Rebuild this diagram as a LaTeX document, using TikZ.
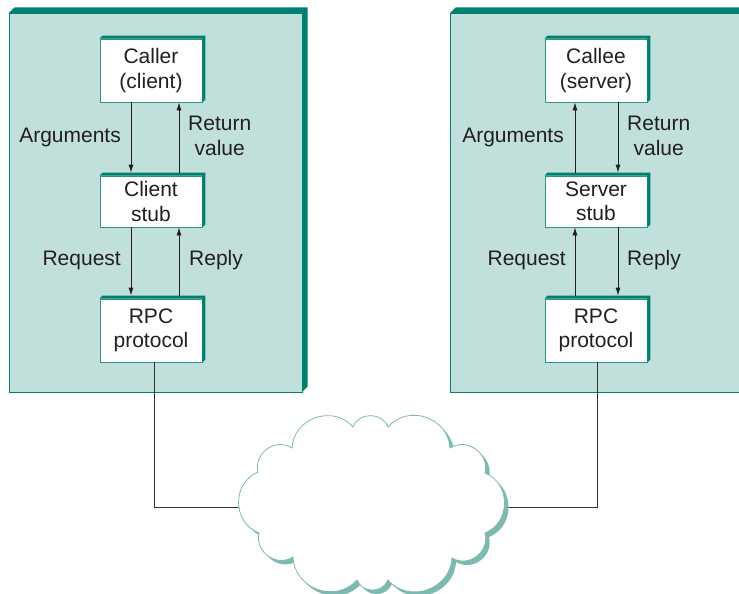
\documentclass[tikz,border=0pt]{standalone}
\usepackage{fontspec}
\setmainfont{Liberation Sans}
\usetikzlibrary{arrows.meta,calc}
\definecolor{panelfill}{HTML}{C1E0DB}
\definecolor{tealdark}{HTML}{00806F}
\definecolor{boxline}{HTML}{2E9484}
\definecolor{cloudsh}{HTML}{7DB9B1}
\definecolor{txt}{HTML}{231F20}
\newcommand\mkband[1]{\fill[tealdark] (#1.north west) -- ++(3,3) -- ([shift={(3,3)}]#1.north east) -- ([shift={(3,3)}]#1.south east) -- (#1.south east) -- (#1.north east) -- cycle;}
\newcommand\cloudshape{(353,-427) to[cb] (388,-427) to[cb] (450,-448) to[cb] (485,-473) to[cb] (485,-533) to[cb] (452,-558) to[cb] (388,-580) to[cb] (357,-580) to[cb] (293,-557) to[cb] (259,-533) to[cb] (258,-472) to[cb] (292,-448) to[cb] (353,-427) -- cycle}
\begin{document}
\begin{tikzpicture}[x=1pt,y=1pt,
  font=\fontsize{21}{24.5}\selectfont, text=txt,
  blk/.style={draw=boxline, line width=0.8pt, fill=white, minimum width=102pt, align=center, inner sep=0pt},
  lbl/.style={align=center, inner sep=0pt},
  arr/.style={-{Latex[length=8pt,width=5pt]}, line width=0.8pt, draw=txt},
  cb/.style={bend left=68, looseness=1.2},
  wire/.style={line width=0.9pt, draw=black!80}]
\useasboundingbox (0,0) rectangle (739,-594);
\clip (0,0) rectangle (739,-594);
% panels
\fill[tealdark] (9,-13) -- (14.5,-7.5) -- (307.5,-7.5) -- (307.5,-386.5) -- (302,-392) -- (302,-13) -- cycle;
\filldraw[fill=panelfill, draw=tealdark, line width=0.8pt] (9,-13) rectangle (302,-392);
\fill[tealdark] (450,-13) -- (455.5,-7.5) -- (760,-7.5) -- (760,-13) -- cycle;
\filldraw[fill=panelfill, draw=tealdark, line width=0.8pt] (450,-13) rectangle (760,-392);
% boxes
\node[blk, minimum height=63pt] (caller) at (151,-70.5) {Caller\\(client)};
\node[blk, minimum height=51pt] (cstub) at (151,-201.5) {Client\\stub};
\node[blk, minimum height=63pt] (crpc) at (151,-330.5) {RPC\\protocol};
\node[blk, minimum height=63pt] (callee) at (596,-70.5) {Callee\\(server)};
\node[blk, minimum height=51pt] (sstub) at (596,-201.5) {Server\\stub};
\node[blk, minimum height=63pt] (srpc) at (596,-330.5) {RPC\\protocol};
\mkband{caller}\mkband{cstub}\mkband{crpc}
\mkband{callee}\mkband{sstub}\mkband{srpc}
% arrows left
\draw[arr] ([xshift=-20]caller.south) -- ([shift={(-20,3)}]cstub.north);
\draw[arr] ([shift={(28,3)}]cstub.north) -- ([xshift=28]caller.south);
\draw[arr] ([xshift=-20]cstub.south) -- ([shift={(-20,3)}]crpc.north);
\draw[arr] ([shift={(28,3)}]crpc.north) -- ([xshift=28]cstub.south);
% arrows right
\draw[arr] ([shift={(-21,3)}]sstub.north) -- ([xshift=-21]callee.south);
\draw[arr] ([xshift=22]callee.south) -- ([shift={(22,3)}]sstub.north);
\draw[arr] ([shift={(-21,3)}]srpc.north) -- ([xshift=-21]sstub.south);
\draw[arr] ([xshift=22]sstub.south) -- ([shift={(22,3)}]srpc.north);
% labels
\node[lbl, anchor=east] (la1) at (121,-137) {Arguments};
\node[lbl, anchor=west] (la2) at (188,-136) {Return\\value};
\node[lbl, anchor=east] (la3) at (121,-260) {Request};
\node[lbl, anchor=west] (la4) at (189,-260) {Reply};
\node[lbl, anchor=east] (ra1) at (564,-137) {Arguments};
\node[lbl, anchor=west] (ra2) at (627,-136) {Return\\value};
\node[lbl, anchor=east] (ra3) at (566,-260) {Request};
\node[lbl, anchor=west] (ra4) at (627,-260) {Reply};
% wires
\coordinate (cw) at (245,-507);
\coordinate (ce) at (500,-507);
\draw[wire] ([xshift=3]crpc.south) |- (cw);
\draw[wire] ([xshift=1]srpc.south) |- (ce);
% cloud
\fill[cloudsh, shift={(4,-4)}] \cloudshape;
\filldraw[fill=white, draw=cloudsh, line width=0.8pt] \cloudshape;
\end{tikzpicture}
\end{document}
